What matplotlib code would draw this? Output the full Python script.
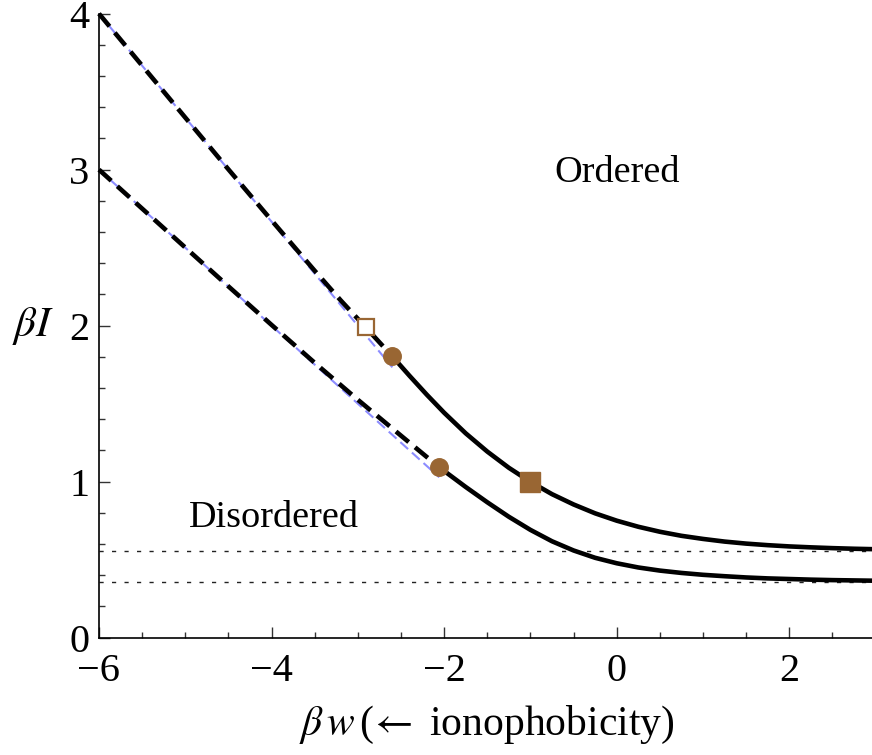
import matplotlib.pyplot as plt

plt.rcParams['font.family'] = ['Liberation Serif', 'DejaVu Serif']
plt.rcParams['mathtext.fontset'] = 'stix'

# metastable branches (dashed)
x_up_meta = [-6.0, -5.0, -4.5, -4.0, -3.5, -3.2, -2.91, -2.6]
y_up_meta = [4.0, 3.334, 3.002, 2.675, 2.352, 2.163, 1.99, 1.803]
x_lo_meta = [-6.0, -5.0, -4.5, -4.0, -3.5, -3.0, -2.5, -2.056]
y_lo_meta = [3.0, 2.501, 2.252, 2.005, 1.762, 1.525, 1.295, 1.092]

# stable branches (solid)
x_up = [-2.6, -2.4, -2.2, -2.0, -1.75, -1.5, -1.25, -1.0, -0.75, -0.5, -0.25, 0.0,
        0.25, 0.5, 0.75, 1.0, 1.25, 1.5, 1.75, 2.0, 2.25, 2.5, 2.75, 3.0]
y_up = [1.803, 1.678, 1.557, 1.442, 1.310, 1.193, 1.089, 0.999, 0.920, 0.854, 0.797, 0.750,
        0.711, 0.679, 0.653, 0.633, 0.616, 0.603, 0.593, 0.585, 0.579, 0.574, 0.570, 0.567]
x_lo = [-2.056, -1.75, -1.5, -1.25, -1.0, -0.75, -0.5, -0.25, 0.0, 0.25, 0.5, 0.75,
        1.0, 1.25, 1.5, 1.75, 2.0, 2.25, 2.5, 2.75, 3.0]
y_lo = [1.092, 0.966, 0.868, 0.775, 0.691, 0.618, 0.559, 0.512, 0.477, 0.450, 0.430, 0.415,
        0.403, 0.394, 0.386, 0.380, 0.376, 0.372, 0.369, 0.367, 0.365]

# limiting straight lines for strongly negative w
x_up_lim = [-6.0, -2.6]
y_up_lim = [4.0, 1.733]
x_lo_lim = [-6.0, -2.056]
y_lo_lim = [3.0, 1.028]

# large-w asymptotes
asym = [0.556, 0.355]

# special points
x_circ = [-2.6, -2.056]
y_circ = [1.803, 1.092]
x_sq_filled, y_sq_filled = -1.0, 1.0
x_sq_open, y_sq_open = -2.91, 1.99

brown = '#996633'
blue = '#8c8cff'

fig = plt.figure(figsize=(8.72, 7.55), dpi=100)
ax = fig.add_axes([0.1135, 0.1554, 0.8906, 0.8265])

for a in asym:
    ax.plot([-6, 3], [a, a], color='#222222', lw=1.0, ls=(0, (3, 6)))

ax.plot(x_up_lim, y_up_lim, color=blue, lw=1.5, ls=(0, (5, 2.5)), clip_on=False)
ax.plot(x_lo_lim, y_lo_lim, color=blue, lw=1.5, ls=(0, (5, 2.5)), clip_on=False)

ax.plot(x_up_meta, y_up_meta, color='black', lw=3.3, ls=(0, (3.6, 1.8)), clip_on=False)
ax.plot(x_lo_meta, y_lo_meta, color='black', lw=3.3, ls=(0, (3.6, 1.8)), clip_on=False)
ax.plot(x_up, y_up, color='black', lw=3.3, solid_capstyle='butt', solid_joinstyle='round')
ax.plot(x_lo, y_lo, color='black', lw=3.3, solid_capstyle='butt', solid_joinstyle='round')

ax.plot(x_circ, y_circ, 'o', color=brown, ms=12.6, mec=brown, zorder=5)
ax.plot([x_sq_filled], [y_sq_filled], 's', color=brown, ms=13.7, mec=brown, zorder=5)
ax.plot([x_sq_open], [y_sq_open], 's', mfc='white', mec=brown, mew=1.6, ms=12, zorder=5)

ax.text(0, 2.98, 'Ordered', fontsize=27.5, ha='center', va='center')
ax.text(-3.97, 0.77, 'Disordered', fontsize=27.5, ha='center', va='center')

ax.set_xlim(-6, 3)
ax.set_ylim(0, 4)
ax.set_xticks([-6, -4, -2, 0, 2])
ax.set_xticks([x / 2 for x in range(-11, 6)], minor=True)
ax.set_yticks([0, 1, 2, 3, 4])
ax.set_yticks([y / 5 for y in range(0, 21)], minor=True)
ax.tick_params(which='both', direction='in', width=1.0, color='#333333', labelsize=29)
ax.tick_params(which='major', length=8)
ax.tick_params(which='minor', length=4.5)
ax.tick_params(axis='y', pad=7)
ax.tick_params(axis='x', pad=11)
for lab in ax.get_yticklabels():
    lab.set_verticalalignment('center_baseline')
for s in ['top', 'right']:
    ax.spines[s].set_visible(False)
for s in ['left', 'bottom']:
    ax.spines[s].set_linewidth(1.2)

ax.set_xlabel(r'$\beta\,w\,$($\!\leftarrow$ ionophobicity)', fontsize=30, labelpad=10)
ax.set_ylabel(r'$\beta I$', fontsize=31, rotation=0, labelpad=26, va='center')

plt.savefig('out.png', dpi=100)
